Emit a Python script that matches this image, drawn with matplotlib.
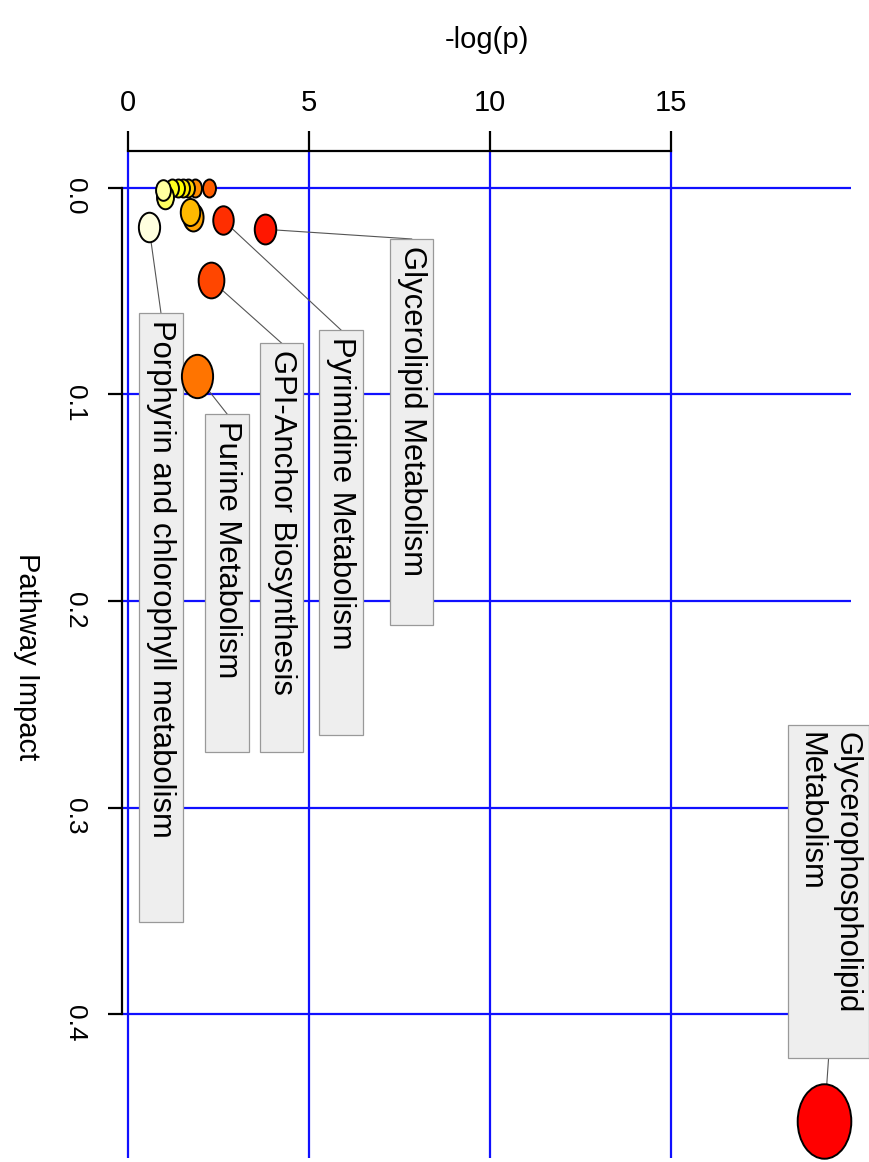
import numpy as np
import matplotlib
matplotlib.use("Agg")
import matplotlib.pyplot as plt
from matplotlib.path import Path
from matplotlib.patches import Rectangle
from matplotlib.colors import hsv_to_rgb

# ---- pathway analysis results (sorted by significance) ----
neglogp = [19.23, 3.78, 2.62, 2.29, 2.24, 1.91, 1.85, 1.79,
           1.71, 1.66, 1.52, 1.38, 1.22, 1.02, 0.97, 0.58]
impact = [0.452, 0.020, 0.0155, 0.0446, 0.0, 0.091, 0.0, 0.014,
          0.0116, 0.0, 0.0, 0.0, 0.0, 0.0044, 0.001, 0.0189]
labels = ["Glycerophospholipid\nMetabolism", "Glycerolipid Metabolism",
          "Pyrimidine Metabolism", "GPI-Anchor Biosynthesis", "",
          "Purine Metabolism", "", "", "", "", "", "", "", "", "",
          "Porphyrin and chlorophyll metabolism"]

x_ticks = [0, 5, 10, 15]
y_ticks = [0.0, 0.1, 0.2, 0.3, 0.4]
y_tick_labels = ["0.0", "0.1", "0.2", "0.3", "0.4"]

# label box placement: (left, right, top, bottom) in data units
label_boxes = {
    "Glycerophospholipid\nMetabolism": (18.23, 20.47, 0.260, 0.4215),
    "Glycerolipid Metabolism": (7.24, 8.43, 0.0247, 0.2116),
    "Pyrimidine Metabolism": (5.28, 6.49, 0.0688, 0.2649),
    "GPI-Anchor Biosynthesis": (3.65, 4.83, 0.0751, 0.2731),
    "Purine Metabolism": (2.13, 3.34, 0.1094, 0.2731),
    "Porphyrin and chlorophyll metabolism": (0.30, 1.52, 0.0605, 0.3554),
}


def heat_colors(n):
    """R-style heat.colors palette: red -> orange -> yellow -> pale yellow."""
    j = n // 4
    i = n - j
    cols = [hsv_to_rgb((h, 1.0, 1.0)) for h in np.linspace(0, 1 / 6, i)]
    if j > 0:
        cols += [hsv_to_rgb((1 / 6, s, 1.0))
                 for s in np.linspace(1 - 1 / (2 * j), 1 / (2 * j), j)]
    return cols


NARROW = ["Liberation Sans Narrow", "Liberation Sans", "DejaVu Sans"]
REGULAR = ["Liberation Sans", "DejaVu Sans"]

FIG_W, FIG_H = 870, 1162
fig = plt.figure(figsize=(FIG_W / 100, FIG_H / 100), dpi=100)
ax_l, ax_r, ax_t, ax_b = 122, 851, 151, 1158
ax = fig.add_axes([ax_l / FIG_W, 1 - ax_b / FIG_H,
                   (ax_r - ax_l) / FIG_W, (ax_b - ax_t) / FIG_H])
ax.set_xlim(-0.166, 19.97)
ax.set_ylim(0.4697, -0.0179)

# blue reference grid
for xv in x_ticks:
    ax.axvline(xv, color="#1010ff", lw=1.6, zorder=1)
for yv in y_ticks:
    ax.axhline(yv, color="#1010ff", lw=1.6, zorder=1)

# axes frame: only the top and left axes, spanning the tick range
for side in ("right", "bottom"):
    ax.spines[side].set_visible(False)
ax.spines["top"].set_bounds(x_ticks[0], x_ticks[-1])
ax.spines["left"].set_bounds(y_ticks[0], y_ticks[-1])
for side in ("top", "left"):
    ax.spines[side].set_linewidth(1.6)
    ax.spines[side].set_color("black")

ax.xaxis.tick_top()
ax.set_xticks(x_ticks)
ax.set_xticklabels([str(v) for v in x_ticks])
ax.set_yticks(y_ticks)
ax.set_yticklabels(y_tick_labels)
ax.tick_params(axis="x", direction="out", length=14.4, width=1.6, pad=10,
               labelsize=21)
ax.tick_params(axis="y", direction="out", length=10, width=1.6, pad=15,
               labelsize=19, labelrotation=-90)
for lbl in ax.get_xticklabels():
    lbl.set_fontfamily(NARROW)
for lbl in ax.get_yticklabels():
    lbl.set_fontfamily(REGULAR)

ax.xaxis.set_label_position("top")
ax.set_xlabel("-log(p)", fontsize=21, family=NARROW)
ax.xaxis.label.set_va("center")
ax.xaxis.set_label_coords(0.5, (FIG_H - 40 - (FIG_H - ax_b)) / (ax_b - ax_t))

ax.set_ylabel("Pathway Impact", fontsize=21, rotation=-90, family=REGULAR)
ax.yaxis.label.set_va("center")
ax.yaxis.label.set_ha("center")
ax.yaxis.set_label_coords((27 - ax_l) / (ax_r - ax_l),
                          1 - (657 - ax_t) / (ax_b - ax_t))

# bubbles: colour by significance rank, size grows with sqrt(impact)
colors = heat_colors(len(neglogp))
circle = Path.unit_circle()
ellipse = Path(circle.vertices * np.array([0.72, 1.0]), circle.codes)
heights_px = 18 + 84 * np.sqrt(np.array(impact))
sizes = (heights_px * 0.72) ** 2
for k in range(len(neglogp)):
    ax.scatter([neglogp[k]], [impact[k]], s=[sizes[k]], marker=ellipse,
               c=[colors[k]], edgecolors="black", linewidths=1.4,
               zorder=5 + k * 0.01, clip_on=False)

# labelled pathways: grey boxes with leader lines
for k, name in enumerate(labels):
    if not name:
        continue
    x0, x1, yt, yb = label_boxes[name]
    xc = (x0 + x1) / 2
    ax.add_patch(Rectangle((x0, yt), x1 - x0, yb - yt, facecolor="#eeeeee",
                           edgecolor="#999999", lw=0.9, zorder=3,
                           clip_on=False))
    anchor_y = yt if impact[k] < yt else yb
    ax.plot([neglogp[k], xc], [impact[k], anchor_y], color="#555555",
            lw=0.8, zorder=2, clip_on=False)
    ax.text(xc, yt + 0.0036, name, rotation=-90, ha="center", va="top",
            multialignment="left", fontsize=22.3, family=REGULAR,
            linespacing=1.25, zorder=4, clip_on=False)

fig.savefig("out.png", dpi=100)
